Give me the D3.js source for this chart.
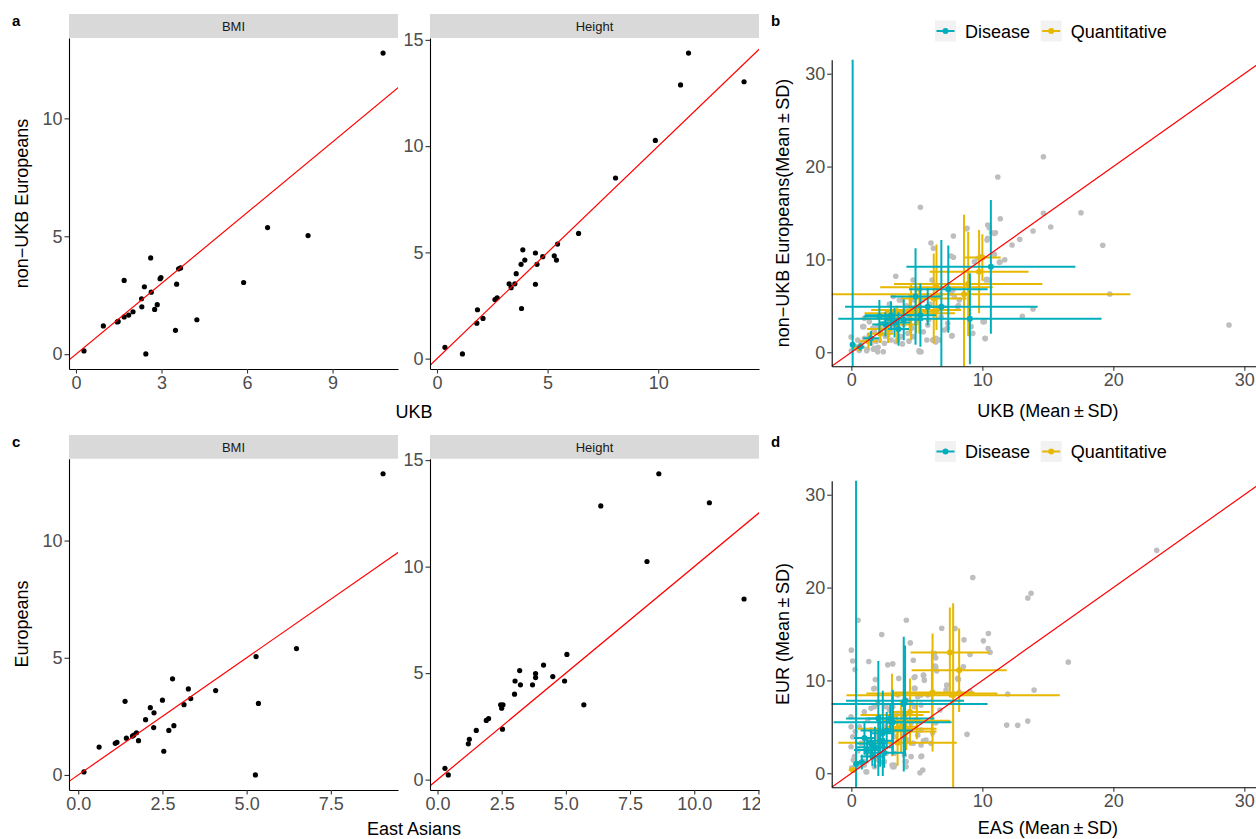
<!DOCTYPE html>
<html>
<head>
<meta charset="utf-8">
<script src="https://cdn.jsdelivr.net/npm/d3@7"></script>
<style>
  body { margin: 0; background: #fff; }
  svg { display: block; }
</style>
</head>
<body>
<div id="fig"></div>
<script>
// ---- panel a: UKB vs non-UKB Europeans ----
const aBmiUKB    = [10.77, 6.72, 8.14, 5.88, 4.24, 3.49, 2.45, 0.28, 0.96, 1.45, 1.48, 1.69, 1.85, 2.0, 1.69, 2.3, 2.31, 2.4, 2.62, 2.64, 2.76, 2.85, 2.95, 2.98, 3.53, 3.6, 3.67];
const aBmiNonUKB = [12.77, 5.37, 5.03, 3.04, 1.46, 1.01, 0.01, 0.14, 1.2, 1.37, 1.39, 1.58, 1.66, 1.8, 3.13, 2.35, 2.01, 2.86, 4.08, 2.63, 1.9, 2.1, 3.2, 3.25, 2.97, 3.62, 3.66];
const aHtUKB     = [11.37, 11.01, 13.88, 9.87, 8.07, 6.4, 5.45, 5.4, 5.3, 4.78, 4.45, 4.52, 4.45, 3.88, 3.97, 3.8, 3.58, 3.52, 3.26, 3.35, 3.82, 2.72, 2.62, 1.83, 1.8, 2.08, 0.36, 1.15];
const aHtNonUKB  = [14.38, 12.88, 13.03, 10.27, 8.5, 5.89, 5.39, 4.64, 4.84, 4.8, 4.97, 4.44, 3.5, 5.12, 4.64, 4.44, 4.0, 3.52, 3.52, 3.34, 2.36, 2.86, 2.78, 2.3, 1.67, 1.89, 0.53, 0.22];

// ---- panel c: East Asians vs Europeans ----
const cBmiEAS = [9.05, 6.48, 5.28, 5.35, 5.26, 4.08, 3.27, 3.34, 3.14, 2.8, 2.84, 2.69, 2.54, 2.5, 2.25, 2.24, 2.14, 2.0, 1.39, 1.79, 1.73, 1.65, 1.61, 1.43, 1.15, 1.1, 0.62, 0.17];
const cBmiEUR = [12.85, 5.39, 5.05, 3.05, 0.0, 3.6, 3.67, 3.26, 3.0, 4.1, 2.1, 1.9, 1.01, 3.19, 2.65, 2.02, 2.87, 2.36, 3.14, 1.46, 1.8, 1.7, 1.66, 1.57, 1.39, 1.35, 1.19, 0.13];
const cHtEAS  = [8.62, 6.36, 10.59, 8.16, 11.94, 5.04, 5.7, 4.95, 4.49, 4.13, 3.82, 3.82, 3.7, 3.2, 3.23, 3.02, 3.0, 2.46, 2.55, 2.5, 2.53, 1.99, 1.9, 1.51, 1.24, 1.2, 0.29, 0.42];
const cHtEUR  = [14.36, 12.85, 13.0, 10.24, 8.48, 5.88, 3.51, 4.63, 4.84, 5.38, 4.98, 4.79, 4.45, 5.12, 4.45, 4.63, 4.01, 3.51, 3.51, 3.35, 2.37, 2.87, 2.78, 2.31, 1.89, 1.68, 0.53, 0.22];

// ---- panel b: all traits, UKB vs non-UKB (grey) + mean/sd per category ----
const bGrey = [[14.66,21.06],[11.18,18.87],[11.37,14.38],[14.66,14.96],[17.53,15.03],[15.22,13.49],[13.87,13.06],[12.85,12.16],[12.27,11.55],[11.0,12.87],[10.7,12.87],[19.19,11.52],[11.71,9.97],[11.3,9.69],[10.92,10.55],[19.73,6.28],[13.87,4.66],[13.05,3.87],[28.83,2.94],
  [5.27,15.61],[8.76,13.3],[7.79,12.52],[10.53,13.41],[10.36,12.09],[6.08,11.77],[6.26,11.2],[7.61,10.37],[7.79,10.23],[3.39,8.18],[11.35,9.72],[10.34,7.86],[7.76,6.71],[8.17,5.02],[10.05,3.3],[10.23,1.47],[7.69,1.79],[7.33,2.58],[6.44,1.11],[6.26,1.32],[5.76,1.32],[5.17,0.17],[5.32,0.06],[-0.02,1.65],[0.95,2.76],[1.17,0.17],[1.68,0.32],[2.44,0.06],[2.04,0.54],[0.31,0.43],[0.0,0.17],
  [4.71,7.78],[6.16,7.78],[4.81,5.63],[2.9,5.2],[3.66,5.63],[3.87,5.63],[0.99,3.66],[1.37,3.3],[1.63,2.58],[0.87,2.76],[0.49,1.32],[0.74,0.97],[0.36,0.6],[1.2,0.32],[1.76,0.43],[2.01,0.06],[2.14,1.32],[2.52,0.97],[3.03,1.32],[3.41,1.14],[3.54,1.32],[3.79,1.68],[4.31,2.04],[4.69,1.68],[5.19,0.06],[5.83,2.94],[5.9,3.48],[6.21,1.32],[6.47,1.5],[6.72,1.32],[7.1,2.4],[7.36,3.12],[7.66,1.75],[7.61,6.35],[7.86,5.99],[8.24,5.63],[8.12,4.91],[9.14,2.76],[9.27,2.04],[10.2,1.5],[10.15,3.3],[10.28,7.78],[10.53,7.78],[10.92,12.81],[9.39,9.75],[9.65,10.12],[9.9,10.29],[10.41,12.27],[10.41,13.7],[8.83,13.35],
  [2.78,3.83],[2.52,3.12],[3.16,4.37],[3.54,3.48],[4.31,4.55],[4.43,3.66],[5.07,4.02],[5.45,5.63],[5.7,5.99],[6.6,4.55],[6.85,3.83],[1.76,2.22],[2.27,2.04],[2.78,1.86],[1.37,1.86],[1.5,0.97],
  [2.0,2.8],[2.3,2.5],[3.0,2.2],[3.3,2.8],[4.0,3.0],[4.6,2.6],[3.8,4.2],[4.2,5.0],[5.0,3.2],[1.0,1.5],[0.6,0.2],[1.9,1.2],[2.6,1.7],[3.9,0.9],[4.4,1.2],[5.5,2.2],[6.0,5.2],[6.8,6.2],[5.2,6.8],[3.2,6.0]];
// [meanX, meanY, sdX, sdY]
const bDisease = [[0.1,0.8,0.05,32],[10.65,9.2,6.45,7.2],[9.05,3.6,10.05,4.9],[6.87,4.9,7.35,7.2],[7.4,6.8,3.0,4.7],[4.9,6.0,1.9,5.2],[5.27,4.0,1.2,3.4],[2.14,3.84,1.2,1.8],[3.03,4.0,2.0,1.5],[5.83,4.9,1.5,2.0],[3.3,3.2,1.2,1.6],[3.6,2.5,0.8,1.8],[2.6,3.0,1.0,1.3],[4.0,3.5,1.5,2.2],[1.5,1.5,0.6,0.8],[0.7,0.6,0.3,0.4]];
const bQuant = [[8.6,6.24,12.7,8.56],[8.92,7.35,5.66,5.63],[9.75,8.68,3.78,4.48],[6.29,5.8,2.5,4.85],[6.5,7.0,4.3,4.6],[4.56,4.4,2.0,3.07],[4.94,4.55,3.43,2.5],[4.45,4.2,3.45,2.0],[5.19,4.5,1.5,2.5],[3.5,3.0,1.5,2.0],[2.8,2.5,1.6,1.5],[3.0,3.6,2.2,1.4],[2.2,2.0,1.0,1.0],[1.3,1.2,0.7,0.8],[0.6,0.5,0.4,0.4],[10.0,10.2,1.4,2.5]];

// ---- panel d: all traits, EAS vs EUR ----
const dGrey = [[23.31,24.01],[9.27,21.08],[13.47,18.88],[13.72,19.39],[0.51,16.48],[4.2,16.48],[2.32,14.95],[6.9,15.62],[7.92,15.59],[10.46,15.05],[10.08,14.26],[10.44,13.44],[10.59,13.04],[8.6,14.37],[9.06,12.8],[4.5,14.04],[0,13.26],[0.1,12.1],[0.28,11.18],[1.33,12.04],[2.78,11.68],[3.16,11.78],[4.73,12.18],[6.44,12.43],[8.55,11.46],[16.56,11.97],[5.5,10.57],[4.79,10.32],[1.83,10.1],[3.62,10.22],[6.44,11.46],[6.52,11.03],[1.76,9.14],[4.81,9.14],[7.28,9.49],[8.17,10.1],[13.95,8.96],[11.94,8.53],[9.06,8.82],[6.77,6.81],[6.44,5.44],[11.86,5.19],[12.7,5.16],[13.47,5.62],[8.83,4.19],[6.21,4.37],[4.73,3.23],[5.5,3.51],[5.37,1.86],[5.24,0.06],[4.12,1.22],[3.26,0.71],[3.11,0.89],[2.34,1.18],[1.17,0.14],[0.66,1.08],[0.15,1.43],[0.03,0.6],
  [1.71,9.1],[4.86,10.39],[5.52,10.54],[5.57,10.03],[4.86,9.14],[5.32,8.42],[5.83,8.42],[3.54,8.42],[4.18,7.88],[4.56,7.53],[5.07,8.24],[4.81,7.16],[5.32,7.34],[1.76,7.16],[2.01,7.53],[1.5,6.99],[2.65,7.16],[2.9,6.81],[3.16,7.16],[4.56,5.38],[4.81,5.73],[5.19,5.55],[5.32,4.66],[5.07,4.12],[3.92,3.94],[4.31,3.58],[5.7,3.58],[6.08,3.23],[4.69,3.23],[5.32,3.04],[3.28,2.15],[4.05,1.97],[4.56,1.79],[5.32,1.79],[5.45,0.35],[4.18,1.25],[4.18,0.71],[3.28,0.89],[3.16,0.71],
  [-0.02,6.09],[-0.02,5.01],[0.1,3.94],[-0.02,2.86],[0.23,1.79],[0.49,0.71],[0.23,0.35],[0.99,0.89],[1.12,0.17],[1.76,0.71],[2.52,1.25],[2.65,2.15],[3.03,3.23],[3.28,3.94],[2.52,5.01],[2.9,5.55],[3.54,6.45],[3.28,6.09],[0.99,6.62],[1.25,5.73],[1.5,4.66],[2.01,3.94],[2.27,2.86],[0.61,5.01],[0.74,3.23],[8.12,10.22],[6.34,12.9],[6.39,11.54],[7.23,8.96],[8.24,8.71],
  [1.2,2.0],[1.9,1.5],[0.5,2.4],[1.4,3.5],[2.2,4.2],[3.7,4.8],[4.0,6.2],[0.3,4.5],[1.0,1.3]];
const dDisease = [[0.36,1.0,0.05,32],[4.0,7.45,6.4,7.26],[4.1,7.8,4.5,5.95],[3.15,5.5,4.5,3.0],[2.06,5.9,0.8,6.2],[2.4,4.3,0.9,4.6],[3.16,5.5,1.0,3.5],[1.5,3.2,1.2,1.5],[1.8,2.8,1.4,2.2],[2.2,3.5,1.0,2.8],[1.2,2.5,1.0,1.4],[2.5,2.2,1.5,1.6],[1.0,3.8,0.8,1.8],[2.7,4.6,2.0,2.0],[0.8,1.2,0.5,0.8],[1.6,1.8,0.9,1.0],[2.97,5.9,3.37,1.5]];
const dQuant = [[7.77,8.4,8.14,9.9],[7.52,13.0,3.0,4.85],[8.23,11.1,3.63,4.5],[6.2,8.7,3.2,6.35],[6.15,8.6,5.0,4.65],[3.1,6.27,2.4,4.45],[4.48,6.6,1.5,3.6],[3.53,3.3,4.52,2.5],[5.0,5.66,2.55,2.0],[3.5,4.8,3.0,1.5],[4.2,4.5,2.3,2.0],[0.1,0.35,0.3,0.3],[3.8,5.0,1.2,2.8]];

const categories = ["Disease", "Quantitative"];
const catColors = ["#00AFBB", "#E7B800"];

const ticksBmiA = [0, 3, 6, 9], ticksHtA = [0, 5, 10], ticksYBmi = [0, 5, 10], ticksYHt = [0, 5, 10, 15];
const ticksBmiC = [0, 2.5, 5, 7.5], ticksHtC = [0, 2.5, 5, 7.5, 10, 12.5];
const ticksBD = [0, 10, 20, 30];

const FONT = "'Liberation Sans', Arial, Helvetica, sans-serif";
const W = 1256, H = 839;

const svg = d3.select("#fig").append("svg")
  .attr("width", W).attr("height", H)
  .style("font-family", FONT);

let clipId = 0;
function clipFor(x0, x1, y0, y1) {
  const id = "clip" + (clipId++);
  svg.append("clipPath").attr("id", id)
    .append("rect").attr("x", x0).attr("y", y0).attr("width", x1 - x0).attr("height", y1 - y0);
  return "url(#" + id + ")";
}

function expand(vals) {
  const [lo, hi] = d3.extent(vals);
  const pad = (hi - lo) * 0.05;
  return [lo - pad, hi + pad];
}

function styleAxis(g) {
  g.select(".domain").attr("stroke", "#000").attr("stroke-width", 1.1);
  g.selectAll(".tick line").attr("stroke", "#333").attr("stroke-width", 1.1);
  g.selectAll(".tick text").attr("fill", "#4D4D4D").style("font-size", "18px").style("font-family", FONT);
}

function drawAxes(x, y, xTicks, yTicks, xFmt) {
  const yBottom = y.range()[0];
  svg.append("g").attr("transform", `translate(0,${yBottom})`)
    .call(d3.axisBottom(x).tickValues(xTicks).tickSize(4.5).tickSizeOuter(0).tickPadding(2.5).tickFormat(xFmt || d3.format("d")))
    .call(styleAxis);
  svg.append("g").attr("transform", `translate(${x.range()[0]},0)`)
    .call(d3.axisLeft(y).tickValues(yTicks).tickSize(4.5).tickSizeOuter(0).tickPadding(2).tickFormat(d3.format("d")))
    .call(styleAxis);
}

function identityLine(x, y, clip) {
  const lo = Math.min(x.domain()[0], y.domain()[0]) - 1;
  const hi = Math.max(x.domain()[1], y.domain()[1]) + 1;
  svg.append("line").attr("clip-path", clip)
    .attr("x1", x(lo)).attr("y1", y(lo)).attr("x2", x(hi)).attr("y2", y(hi))
    .attr("stroke", "#FF0000").attr("stroke-width", 1.2);
}

// one facet of panel a / c
function facet(xs, ys, xr, yr, strip, label, xTicks, yTicks, xFmt) {
  const x = d3.scaleLinear().domain(expand(xs)).range(xr);
  const y = d3.scaleLinear().domain(expand(ys)).range(yr);
  const clip = clipFor(xr[0], xr[1], yr[1], yr[0]);

  svg.append("rect").attr("x", xr[0]).attr("y", strip[0])
    .attr("width", xr[1] - xr[0]).attr("height", strip[1] - strip[0]).attr("fill", "#D9D9D9");
  svg.append("text").attr("x", (xr[0] + xr[1]) / 2).attr("y", (strip[0] + strip[1]) / 2 + 4.7)
    .attr("text-anchor", "middle").attr("fill", "#1A1A1A").style("font-size", "13px").text(label);

  svg.append("g").selectAll("circle").data(d3.range(xs.length)).join("circle")
    .attr("cx", i => x(xs[i])).attr("cy", i => y(ys[i])).attr("r", 2.6).attr("fill", "#000");
  identityLine(x, y, clip);
  drawAxes(x, y, xTicks, yTicks, xFmt);
}

function panelLabel(t, px, py) {
  svg.append("text").attr("x", px).attr("y", py).style("font-size", "15px").style("font-weight", "bold").text(t);
}

function axisTitle(t, px, py, rotate) {
  const el = svg.append("text").attr("text-anchor", "middle").attr("fill", "#000").style("font-size", "18px").text(t);
  if (rotate) el.attr("transform", `translate(${px},${py}) rotate(-90)`);
  else el.attr("x", px).attr("y", py);
}

// ---- left column ----
const colBmi = [69, 398], colHt = [430, 759];
const rowA = [369, 38], rowC = [790, 458.7];

facet(aBmiUKB, aBmiNonUKB, colBmi, rowA, [14, 38], "BMI", ticksBmiA, ticksYBmi);
facet(aHtUKB, aHtNonUKB, colHt, rowA, [14, 38], "Height", ticksHtA, ticksYHt);
facet(cBmiEAS, cBmiEUR, colBmi, rowC, [435, 458.7], "BMI", ticksBmiC, ticksYBmi, d3.format(".1f"));
facet(cHtEAS, cHtEUR, colHt, rowC, [435, 458.7], "Height", ticksHtC, ticksYHt, d3.format(".1f"));

axisTitle("UKB", 414, 418);
axisTitle("East Asians", 414, 835);
axisTitle("non\u2212UKB Europeans", 27.5, 203.5, true);
axisTitle("Europeans", 27.5, 624, true);
panelLabel("a", 12, 26);
panelLabel("c", 12, 446.7);

// ---- right column (drawn over the left one) ----
svg.append("rect").attr("x", 760).attr("y", 0).attr("width", W - 760).attr("height", H).attr("fill", "#fff");

function summaryPanel(grey, dis, quant, yr, legendY, xTitle, yTitle, titleY) {
  const xr = [831.7, 1264];
  const x = d3.scaleLinear().domain([-1.5, 31.5]).range(xr);
  const y = d3.scaleLinear().domain([-1.5, 31.5]).range(yr);
  const clip = clipFor(xr[0], xr[1], yr[1], yr[0]);

  svg.append("g").attr("clip-path", clip).selectAll("circle").data(grey).join("circle")
    .attr("cx", d => x(d[0])).attr("cy", d => y(d[1])).attr("r", 2.8).attr("fill", "#BEBEBE");

  [quant, dis].forEach((set, k) => {
    const col = k === 0 ? catColors[1] : catColors[0];
    const g = svg.append("g").attr("clip-path", clip);
    set.forEach(d => {
      g.append("line").attr("x1", x(d[0] - d[2])).attr("x2", x(d[0] + d[2]))
        .attr("y1", y(d[1])).attr("y2", y(d[1])).attr("stroke", col).attr("stroke-width", 2);
      g.append("line").attr("x1", x(d[0])).attr("x2", x(d[0]))
        .attr("y1", y(d[1] - d[3])).attr("y2", y(d[1] + d[3])).attr("stroke", col).attr("stroke-width", 2);
      g.append("circle").attr("cx", x(d[0])).attr("cy", y(d[1])).attr("r", 3).attr("fill", col);
    });
  });

  identityLine(x, y, clip);
  drawAxes(x, y, ticksBD, ticksBD);

  axisTitle(xTitle, (xr[0] + xr[1]) / 2, titleY);
  axisTitle(yTitle, 789, (yr[0] + yr[1]) / 2, true);

  // legend
  const keyX = [935, 1040.7];
  categories.forEach((c, i) => {
    const g = svg.append("g").attr("transform", `translate(${keyX[i]},${legendY - 10.5})`);
    g.append("rect").attr("width", 21).attr("height", 21).attr("fill", "#F2F2F2");
    g.append("line").attr("x1", 1.5).attr("x2", 19.5).attr("y1", 10.5).attr("y2", 10.5)
      .attr("stroke", catColors[i]).attr("stroke-width", 2);
    g.append("circle").attr("cx", 10.5).attr("cy", 10.5).attr("r", 3).attr("fill", catColors[i]);
    g.append("text").attr("x", 30).attr("y", 17).style("font-size", "18px").attr("fill", "#000").text(c);
  });
}

summaryPanel(bGrey, bDisease, bQuant, [366.2, 59.8], 31, "UKB (Mean\u2009\u00B1\u2009SD)", "non\u2212UKB Europeans(Mean\u2009\u00B1\u2009SD)", 417);
summaryPanel(dGrey, dDisease, dQuant, [787.2, 480.8], 451.5, "EAS (Mean\u2009\u00B1\u2009SD)", "EUR (Mean\u2009\u00B1\u2009SD)", 834);
panelLabel("b", 771, 26);
panelLabel("d", 771, 446.7);
</script>
</body>
</html>
